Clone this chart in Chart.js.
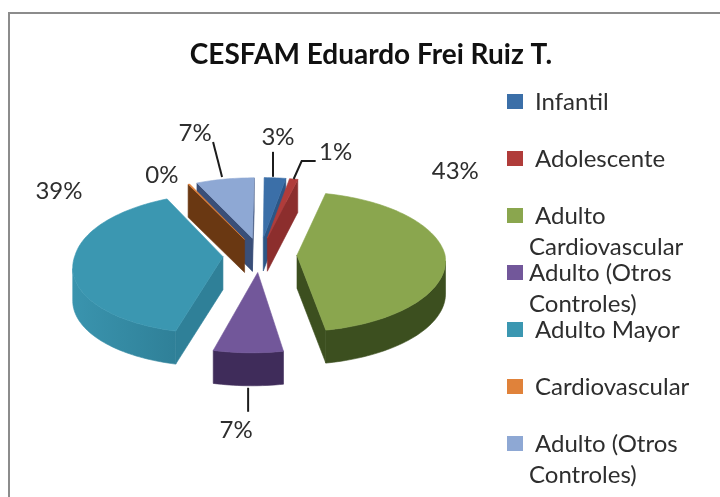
<!DOCTYPE html>
<html lang="es">
<head>
<meta charset="utf-8">
<title>CESFAM Eduardo Frei Ruiz T.</title>
<script src="https://cdn.jsdelivr.net/npm/chart.js@4/dist/chart.umd.min.js"></script>
<style>html,body{margin:0;padding:0;background:#fff}canvas{display:block;filter:blur(0.4px)}</style>
</head>
<body>
<canvas id="c" width="720" height="497"></canvas>
<script>
// Data
const chartTitle = 'CESFAM Eduardo Frei Ruiz T.';
const categories = ['Infantil', 'Adolescente', 'Adulto Cardiovascular', 'Adulto (Otros Controles)', 'Adulto Mayor', 'Cardiovascular', 'Adulto (Otros Controles)'];
const values = [2.6, 1, 43, 6.7, 39, 0.2, 7];

// Styles
const topColors = ['#3b6fa8', '#b03c3a', '#8aa64e', '#72579a', '#3b97b1', '#e0823a', '#8ea8d4'];
const wallColors = ['#2c5686', '#8c2e2d', '#3c4f1f', '#3f2c5a', '#2f8098', '#6a3812', '#3a4f78'];
const outerLeftColors = ['#2c5686', '#8c2e2d', '#3c4f1f', '#3f2c5a', '#3a94ae', '#6a3812', '#3a4f78'];
const legendLines = [['Infantil'], ['Adolescente'], ['Adulto', 'Cardiovascular'], ['Adulto (Otros', 'Controles)'], ['Adulto Mayor'], ['Cardiovascular'], ['Adulto (Otros', 'Controles)']];
const legendFirstX = [535, 535, 535, 529, 535, 535, 535];
// Label placement relative to the outer midpoint of each slice
const labelShift = [[3, -41], [42, -27], [10, -86], [-12, 77], [-14, -73], [-27, -9], [-30, -46]];
const leaderShift = [[[-2, -1], [-2, -26]], [[0, 0], [8, -18], [22, -18]], null, [[0, 35], [0, 59]], null, null, [[-3, -2], [-12, -37]]];
const DEPTH = 33, PERSP = 0.00064, SQUASH = 0.467, SHEAR = 0.04;

const pie3d = {
  id: 'pie3d',
  beforeDraw(chart) {
    const c = chart.ctx;
    c.save();
    c.fillStyle = '#8c8c8c';
    c.fillRect(8, 12, 712, 2);
    c.fillRect(8, 12, 2, 485);
    c.restore();
  },
  afterLayout(chart) {
    chart.titleBlock.left = 22;
    chart.titleBlock.right = 720;
  },
  beforeDatasetDraw() { return false; },
  afterDatasetsDraw(chart) {
    const c = chart.ctx;
    const arcs = chart.getDatasetMeta(0).data;
    const project = (x0, y0, u, v) => {
      const d = 1 - PERSP * v;
      return [x0 + u / d - SHEAR * Math.max(v, 0), y0 + SQUASH * v / d];
    };
    const info = arcs.map((el, i) => {
      const p = el.getProps(['x', 'y', 'startAngle', 'endAngle', 'outerRadius'], true);
      const off = el.options.offset || 0;
      const mid = (p.startAngle + p.endAngle) / 2;
      const ox = off * Math.cos(mid), oy = off * Math.sin(mid);
      const apex = project(p.x, p.y, ox, oy);
      const rim = [];
      const n = Math.max(2, Math.ceil((p.endAngle - p.startAngle) * 40));
      for (let k = 0; k <= n; k++) {
        const t = p.startAngle + (p.endAngle - p.startAngle) * k / n;
        rim.push(project(p.x, p.y, ox + p.outerRadius * Math.cos(t), oy + p.outerRadius * Math.sin(t)));
      }
      const anchor = project(p.x, p.y, ox + p.outerRadius * Math.cos(mid), oy + p.outerRadius * Math.sin(mid));
      return { i, apex, rim, anchor, depthKey: Math.sin(mid) };
    });
    const poly = (pts, color) => {
      c.beginPath();
      pts.forEach((q, k) => k ? c.lineTo(q[0], q[1]) : c.moveTo(q[0], q[1]));
      c.closePath();
      c.fillStyle = color; c.strokeStyle = color; c.lineWidth = 0.6;
      c.fill(); c.stroke();
    };
    const wallOf = run => run.concat(run.map(q => [q[0], q[1] + DEPTH]).reverse());
    [...info].sort((a, b) => a.depthKey - b.depthKey).forEach(s => {
      const wall = wallColors[s.i];
      const first = s.rim[0], last = s.rim[s.rim.length - 1];
      if (first[0] < s.apex[0]) poly(wallOf([s.apex, first]), wall);
      if (s.apex[0] < last[0]) poly(wallOf([last, s.apex]), wall);
      // outer wall: contiguous stretch of the rim that faces the viewer
      let run = [];
      const flush = () => {
        if (run.length > 1) {
          const g = c.createLinearGradient(run[run.length - 1][0], 0, run[0][0], 0);
          g.addColorStop(0, outerLeftColors[s.i]);
          g.addColorStop(1, wall);
          poly(wallOf(run), g);
        }
        run = [];
      };
      for (let k = 0; k < s.rim.length - 1; k++) {
        const a = s.rim[k], b = s.rim[k + 1];
        if (b[0] < a[0]) { if (!run.length) run.push(a); run.push(b); } else flush();
      }
      flush();
      poly([s.apex, ...s.rim], topColors[s.i]);
    });
    // Leaders and percentage labels
    const total = values.reduce((x, y) => x + y, 0);
    c.save();
    c.strokeStyle = '#1c1c1c'; c.lineWidth = 2;
    info.forEach(s => {
      const l = leaderShift[s.i];
      if (!l) return;
      c.beginPath();
      l.forEach((d, k) => k ? c.lineTo(s.anchor[0] + d[0], s.anchor[1] + d[1]) : c.moveTo(s.anchor[0] + d[0], s.anchor[1] + d[1]));
      c.stroke();
    });
    c.fillStyle = '#2e2e2e'; c.font = '24px Lato'; c.textAlign = 'center'; c.textBaseline = 'middle';
    info.forEach(s => {
      c.fillText(Math.round(values[s.i] / total * 100) + '%', s.anchor[0] + labelShift[s.i][0], s.anchor[1] + labelShift[s.i][1]);
    });
    // Legend
    c.textAlign = 'left';
    legendLines.forEach((lines, i) => {
      const y = 102 + i * 57.0;
      c.fillStyle = topColors[i];
      c.fillRect(507, y - 8, 16, 15);
      c.fillStyle = '#2e2e2e';
      lines.forEach((t, k) => c.fillText(t, k ? 529 : legendFirstX[i], y + k * 31));
    });
    c.restore();
  }
};

new Chart(document.getElementById('c'), {
  type: 'pie',
  data: { labels: categories, datasets: [{ data: values, backgroundColor: topColors, borderWidth: 0, offset: 37 }] },
  options: {
    responsive: false,
    animation: false,
    rotation: 0.5,
    radius: 148,
    layout: { padding: { left: 75, right: 275, top: 38, bottom: 59 } },
    plugins: {
      legend: { display: false },
      tooltip: { enabled: false },
      title: { display: true, text: chartTitle, color: '#111', font: { family: 'Lato', size: 28, weight: 'bold' }, padding: { top: 0, bottom: 0 } }
    }
  },
  plugins: [pie3d]
});
</script>
</body>
</html>
